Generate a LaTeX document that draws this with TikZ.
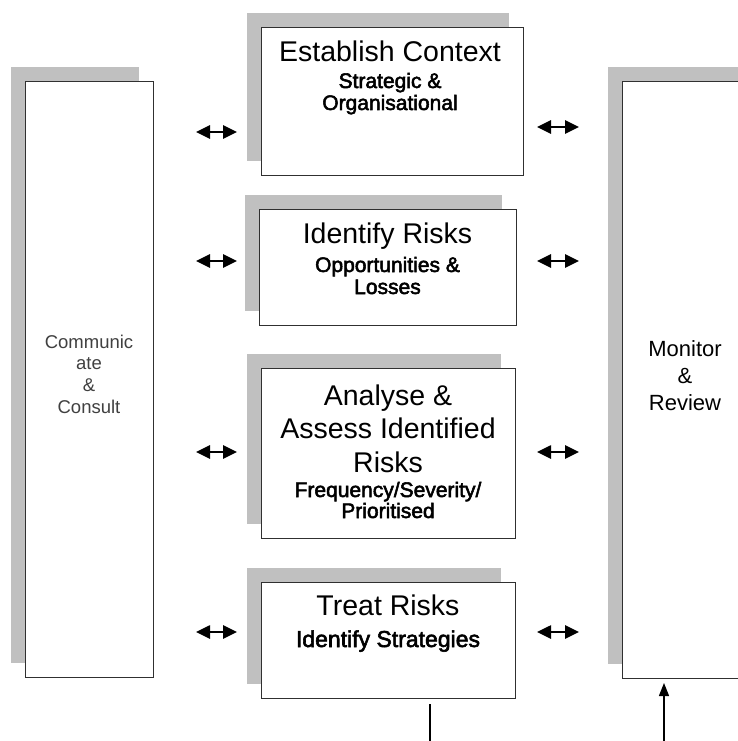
\documentclass[tikz,border=0pt]{standalone}
\usepackage{fontspec}
\setmainfont{Liberation Sans}
\newfontfamily\subfont[FakeBold=2.5]{Liberation Sans}
\usetikzlibrary{arrows.meta,shadows}
\definecolor{shadowgray}{HTML}{C0C0C0}
\definecolor{edge}{HTML}{303030}
\begin{document}
\begin{tikzpicture}[x=1pt,y=-1pt,
  box/.style={draw=edge, line width=1.2pt, fill=white, inner sep=0pt, anchor=north west,
    drop shadow={shadow xshift=-15pt, shadow yshift=15pt, fill=shadowgray, opacity=1}},
  ttl/.style={anchor=base, inner sep=0pt, font=\fontsize{28.5}{31}\selectfont},
  sub/.style={anchor=base, inner sep=0pt, font=\subfont\fontsize{21}{23}\selectfont},
  side/.style={anchor=base, inner sep=0pt, font=\fontsize{22}{24}\selectfont},
  comm/.style={anchor=base, inner sep=0pt, text=black!75, font=\fontsize{18.5}{21}\selectfont},
  dbl/.style={{Triangle[length=14pt,width=13pt]}-{Triangle[length=14pt,width=13pt]}, line width=2.6pt},
  upar/.style={-{Triangle[length=13pt,width=10pt]}, line width=1.3pt}]
\useasboundingbox (0,0) rectangle (738,741);
\clip (0,0) rectangle (738,741);
\fill[white] (0,0) rectangle (738,741);

% side boxes
\node[box, minimum width=128pt, minimum height=596pt] (cc) at (25,81) {};
\node[box, minimum width=133pt, minimum height=597pt] (mr) at (622,81) {};

% process boxes
\node[box, minimum width=262pt, minimum height=148pt] (ec) at (261,27) {};
\node[box, minimum width=257pt, minimum height=116pt] (ir) at (259,209) {};
\node[box, minimum width=254pt, minimum height=170pt] (ar) at (261,368) {};
\node[box, minimum width=254pt, minimum height=116pt] (tr) at (261,582) {};

% texts
\node[comm] (cc1) at (89,348) {Communic};
\node[comm] (cc2) at (89,369.5) {ate};
\node[comm] (cc3) at (89,391.5) {\&};
\node[comm] (cc4) at (89,413) {Consult};

\node[side] (mr1) at (685,356) {Monitor};
\node[side] (mr2) at (685,383) {\&};
\node[side] (mr3) at (685,410) {Review};

\node[ttl] (ec1) at (390,62) {Establish Context};
\node[sub] (ec2) at (390,88) {Strategic \&};
\node[sub] (ec3) at (390,110) {Organisational};

\node[ttl] (ir1) at (387.5,243) {Identify Risks};
\node[sub] (ir2) at (387.5,272) {Opportunities \&};
\node[sub] (ir3) at (387.5,294) {Losses};

\node[ttl] (ar1) at (388,405) {Analyse \&};
\node[ttl] (ar2) at (388,438.5) {Assess Identified};
\node[ttl] (ar3) at (388,472) {Risks};
\node[sub] (ar4) at (388,497) {Frequency/Severity/};
\node[sub] (ar5) at (388,518) {Prioritised};

\node[ttl] (tr1) at (388,615) {Treat Risks};
\node[sub, font=\subfont\fontsize{23}{25}\selectfont] (tr2) at (388,647) {Identify Strategies};

% double arrows
\coordinate (l1a) at (196,132); \coordinate (l1b) at (237,132);
\coordinate (r1a) at (537,127); \coordinate (r1b) at (579,127);
\coordinate (l2a) at (196,261); \coordinate (l2b) at (237,261);
\coordinate (r2a) at (537,261); \coordinate (r2b) at (579,261);
\coordinate (l3a) at (196,452); \coordinate (l3b) at (237,452);
\coordinate (r3a) at (537,452); \coordinate (r3b) at (579,452);
\coordinate (l4a) at (196,632); \coordinate (l4b) at (237,632);
\coordinate (r4a) at (537,632); \coordinate (r4b) at (579,632);
\foreach \p in {l1,r1,l2,r2,l3,r3,l4,r4} {\draw[dbl] (\p a) -- (\p b);}

% bottom connectors
\coordinate (tbs) at (430,704); \coordinate (tbe) at (430,745);
\draw[line width=1.2pt] (tbs) -- (tbe);
\coordinate (mrs) at (664,745); \coordinate (mre) at (664,683);
\draw[upar] (mrs) -- (mre);
\end{tikzpicture}
\end{document}
